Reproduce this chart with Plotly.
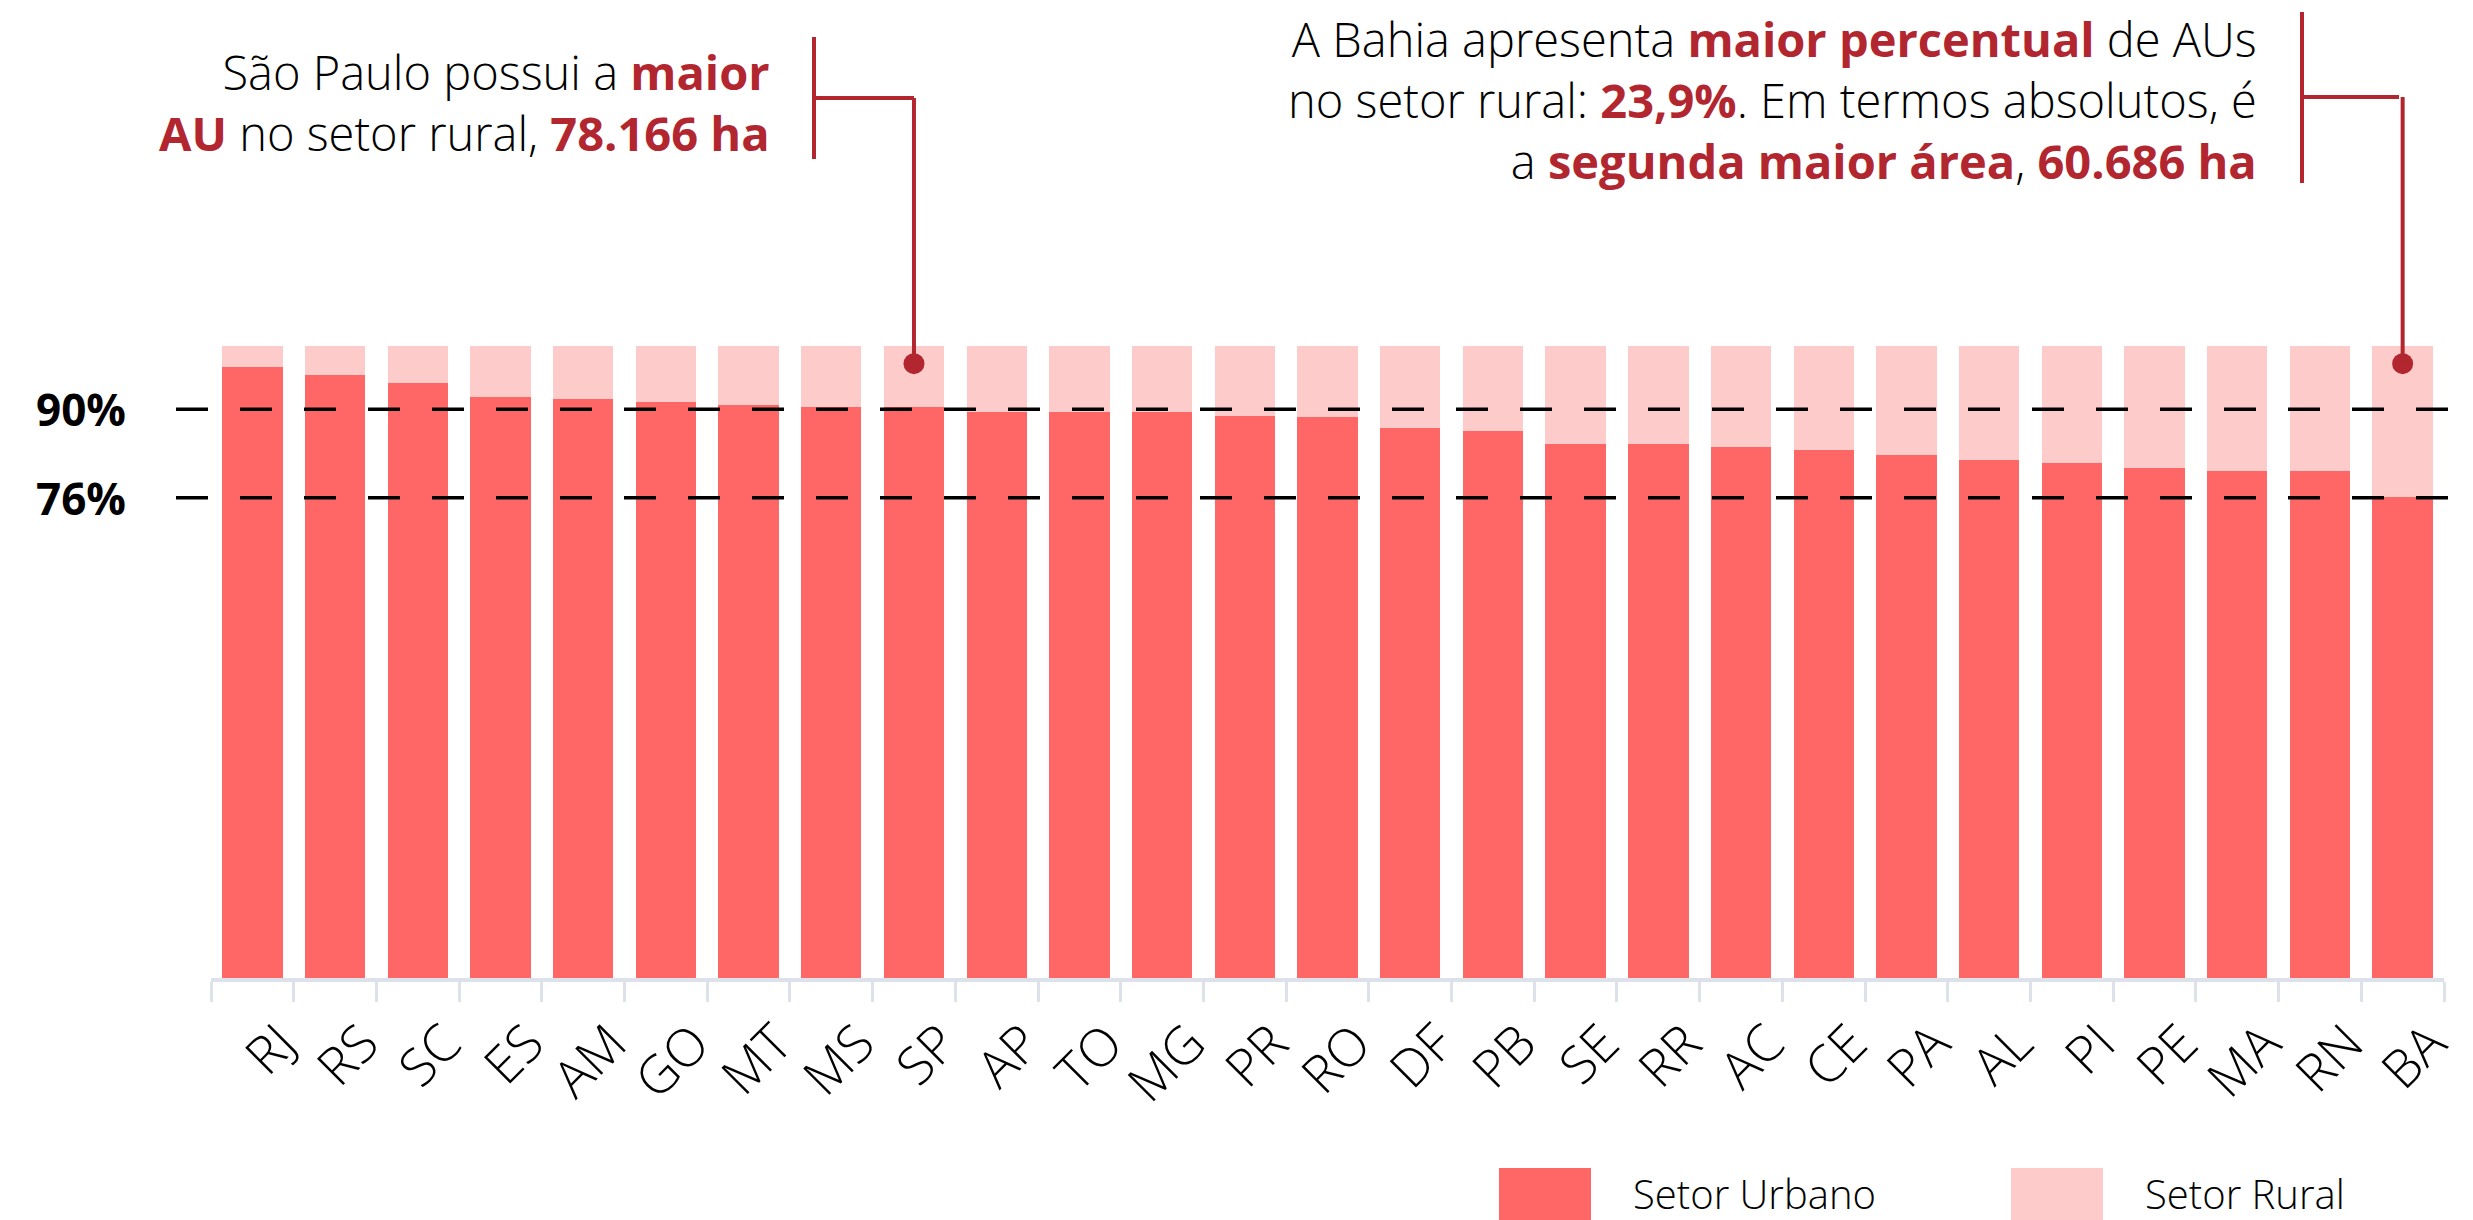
import plotly.graph_objects as go

# estados, ordenados pelo percentual urbano
estados = ['RJ', 'RS', 'SC', 'ES', 'AM', 'GO', 'MT', 'MS', 'SP', 'AP', 'TO', 'MG', 'PR', 'RO',
           'DF', 'PB', 'SE', 'RR', 'AC', 'CE', 'PA', 'AL', 'PI', 'PE', 'MA', 'RN', 'BA']
setor_urbano = [96.6, 95.4, 94.1, 92.0, 91.6, 91.2, 90.7, 90.3, 90.3, 89.5, 89.5, 89.5, 89.0, 88.7,
                87.0, 86.6, 84.5, 84.5, 84.0, 83.6, 82.8, 81.9, 81.5, 80.7, 80.2, 80.2, 76.1]
setor_rural = [3.4, 4.6, 5.9, 8.0, 8.4, 8.8, 9.3, 9.7, 9.7, 10.5, 10.5, 10.5, 11.0, 11.3,
               13.0, 13.4, 15.5, 15.5, 16.0, 16.4, 17.2, 18.1, 18.5, 19.3, 19.8, 19.8, 23.9]
linhas_ref = [90, 76]
destaques = ['SP', 'BA']
y_ponto = 97.2

VERMELHO = '#FF6666'
ROSA = '#FECBCB'
ESCURO = '#B22630'
FONTE = 'Open Sans'

W, H = 2473, 1220
ML, MR, MT, MB = 211, 29, 346, 242
PW = W - ML - MR
PH = H - MT - MB


def px(xpix):
    return (xpix - ML) / PW


def py(ypix):
    return (H - MB - ypix) / PH


fig = go.Figure()
fig.add_trace(go.Bar(x=estados, y=setor_urbano, name='Setor Urbano',
                     marker=dict(color=VERMELHO, line=dict(width=0))))
fig.add_trace(go.Bar(x=estados, y=setor_rural, name='Setor Rural',
                     marker=dict(color=ROSA, line=dict(width=0))))
fig.add_trace(go.Scatter(x=destaques, y=[y_ponto, y_ponto], mode='markers',
                         marker=dict(color=ESCURO, size=21), showlegend=False,
                         hoverinfo='skip'))

shapes = []
annotations = []

# linhas tracejadas de referência
for v in linhas_ref:
    shapes.append(dict(type='line', xref='paper', yref='y', x0=px(176), x1=px(W + 5), y0=v, y1=v,
                       line=dict(color='black', width=3.5, dash='32px,32px'), layer='above'))
    annotations.append(dict(xref='paper', yref='y', x=px(128), y=v, xanchor='right',
                            yanchor='middle', showarrow=False, text='<b>%d%%</b>' % v,
                            font=dict(family=FONTE, size=44, color='black')))


# chamadas (colchetes + linha até o ponto)
def chamada(x_colchete, y_topo, y_base, y_meio, estado, x_estado_pix):
    shapes.append(dict(type='line', xref='paper', yref='paper', x0=px(x_colchete), x1=px(x_colchete),
                       y0=py(y_topo), y1=py(y_base), line=dict(color=ESCURO, width=4)))
    shapes.append(dict(type='line', xref='paper', yref='paper', x0=px(x_colchete), x1=px(x_estado_pix),
                       y0=py(y_meio), y1=py(y_meio), line=dict(color=ESCURO, width=4)))
    shapes.append(dict(type='line', xref='x', yref='paper', x0=estado, x1=estado,
                       y0=py(y_meio), y1=y_ponto / 100, line=dict(color=ESCURO, width=4)))


chamada(814, 37, 159, 98, 'SP', 914)
chamada(2302, 12, 183, 97, 'BA', 2399)

R = "<span style='color:%s'><b>%%s</b></span>" % ESCURO
texto_sp = ('São Paulo possui a ' + R % 'maior' + '<br>' + R % 'AU' +
            ' no setor rural, ' + R % '78.166 ha')
texto_ba = ('A Bahia apresenta ' + R % 'maior percentual' + ' de AUs<br>no setor rural: ' +
            R % '23,9%' + '. Em termos absolutos, é<br>a ' + R % 'segunda maior área' +
            ', ' + R % '60.686 ha')
annotations.append(dict(xref='paper', yref='paper', x=px(772), y=py(103), xanchor='right',
                        yanchor='middle', align='right', showarrow=False, text=texto_sp,
                        font=dict(family=FONTE, size=47, color='black', weight=300)))
annotations.append(dict(xref='paper', yref='paper', x=px(2259), y=py(100), xanchor='right',
                        yanchor='middle', align='right', showarrow=False, text=texto_ba,
                        font=dict(family=FONTE, size=47, color='black', weight=300)))

# legenda desenhada
for nome, cor, xq in [('Setor Urbano', VERMELHO, 1499), ('Setor Rural', ROSA, 2011)]:
    shapes.append(dict(type='rect', xref='paper', yref='paper', x0=px(xq), x1=px(xq + 92),
                       y0=py(1168), y1=py(1222), fillcolor=cor, line=dict(width=0)))
    annotations.append(dict(xref='paper', yref='paper', x=px(xq + 132), y=py(1193), xanchor='left',
                            yanchor='middle', showarrow=False, text=nome,
                            font=dict(family=FONTE, size=40, color='black', weight=300)))

fig.update_layout(
    width=W, height=H, autosize=False,
    margin=dict(l=ML, r=MR, t=MT, b=MB, pad=0),
    barmode='stack', bargap=0.27,
    plot_bgcolor='white', paper_bgcolor='white',
    showlegend=False,
    font=dict(family=FONTE, color='black'),
    shapes=shapes, annotations=annotations,
    xaxis=dict(range=[-0.5, len(estados) - 0.5], showline=True, linecolor='#DDE2EA', linewidth=4,
               ticks='outside', tickson='boundaries', ticklen=20, tickwidth=3, tickcolor='#DDE2EA',
               tickangle=-45, ticklabelshift=28, ticklabelstandoff=10,
               tickfont=dict(family=FONTE, size=52, color='black', weight=300),
               showgrid=False, zeroline=False),
    yaxis=dict(range=[0, 100], visible=False, showgrid=False, zeroline=False),
)

fig.write_html("out.html", config={'displayModeBar': False},
               post_script="document.body.style.margin='0';document.body.style.overflow='hidden';")
